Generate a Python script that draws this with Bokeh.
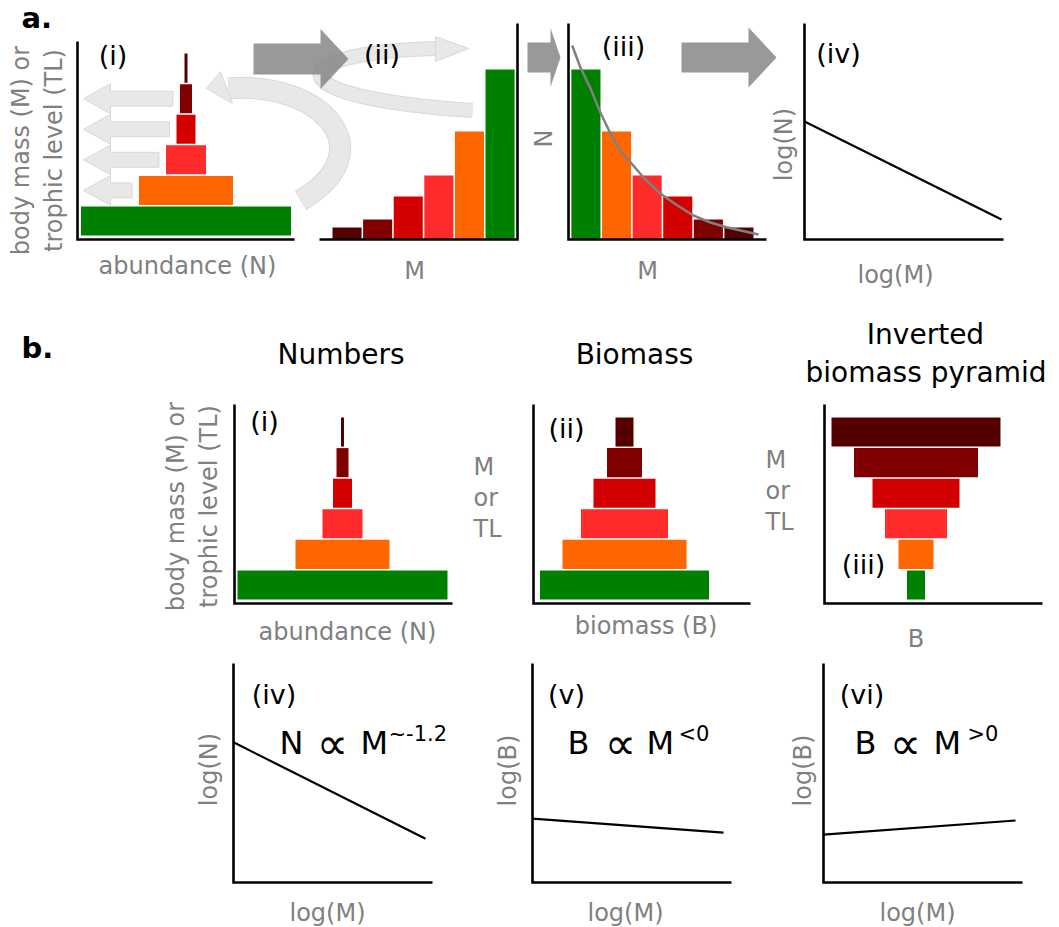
import numpy as np
from bokeh.plotting import figure
from bokeh.models import Range1d
from bokeh.core.properties import value
from bokeh.embed import file_html
from bokeh.resources import INLINE

W, H = 1059, 927
FONT = value("DejaVu Sans")
GREY = "#808080"

# size classes from the base of the pyramid (1, producers) to the top (6)
levels = [1, 2, 3, 4, 5, 6]
class_colors = ["#008000", "#ff6600", "#ff2a2a", "#d40000", "#800000", "#550000"]

# pyramid of numbers: relative abundance of each class
abundance = [210, 94, 40, 19, 12, 3]
# the same classes laid out along body mass (histogram heights)
abundance_hist = [170, 108, 64, 43, 20, 12]
# smooth abundance-size curve through the histogram
curve_M = [0.55, 0.82, 1.15, 1.47, 1.80, 2.13, 2.49, 2.88, 3.43, 3.99, 4.51, 5.07, 5.62, 6.64]
curve_N = [194, 172, 151, 127, 106, 89, 76, 62, 46, 34, 24, 17, 12, 5]
# biomass per class
biomass = [169, 124, 87, 62, 35, 18]
biomass_inverted = [18, 35, 62, 87, 124, 169]

# log-log size spectra, end points
logM_a = [0.0, 0.99]
logN_a = [0.546, 0.093]
logM_N = [0.0, 0.965]
logN_b = [0.64, 0.20]
logM_Bneg = [0.0, 0.96]
logB_neg = [0.292, 0.228]
logM_Bpos = [0.0, 0.965]
logB_pos = [0.219, 0.283]

# scaling exponents written next to the spectra
exponents = ["~-1.2", "<0", ">0"]

# panel frames: pixel box (left, right, top, bottom) and data limits (x0, x1, y0, y1)
panels = {
    "a1": (77, 294, 41, 239, 0, 217, 0.395, 6.87),
    "a2": (319, 517, 23, 239, 0.10, 6.57, 0, 216),
    "a3": (568, 766, 23, 239, 0.43, 6.90, 0, 216),
    "a4": (804, 1003, 23, 239, 0, 1, 0, 1),
    "b1": (234, 452, 404, 603, 0, 218, 0.395, 6.90),
    "b2": (533, 750, 404, 603, 0, 217, 0.395, 6.90),
    "b3": (824, 1042, 404, 603, 0, 218, 0.395, 6.90),
    "b4": (233, 432, 663, 882, 0, 1, 0, 1),
    "b5": (532, 731, 663, 882, 0, 1, 0, 1),
    "b6": (823, 1022, 663, 882, 0, 1, 0, 1),
}

p = figure(width=W, height=H, x_range=Range1d(0, W), y_range=Range1d(H, 0),
           title=None, toolbar_location=None, output_backend="svg",
           x_axis_location=None, y_axis_location=None, min_border=0)
p.outline_line_color = None
p.grid.visible = False
p.background_fill_color = "white"
p.border_fill_color = "white"

xr, yr = {}, {}
for name, (l, r, t, b, x0, x1, y0, y1) in panels.items():
    sx = (x1 - x0) / (r - l)
    xs = x0 - l * sx
    xr[name] = Range1d(xs, xs + W * sx)
    sy = (y1 - y0) / (b - t)
    ys = y0 - (H - b) * sy
    yr[name] = Range1d(ys, ys + H * sy)
p.extra_x_ranges = xr
p.extra_y_ranges = yr


def kw(name):
    return dict(x_range_name=name, y_range_name=name)


def label(x, y, s, size, color="black", angle=0.0, align="center", style="normal"):
    p.text(x=[x], y=[y], text=[s], text_font=FONT, text_font_size=f"{size}px",
           text_color=color, angle=angle, text_align=align,
           text_baseline="middle", text_font_style=style)


# ---- light curved arrows (panel a) ----
LIGHT = "#e8e8e8"
EDGE = "#d9d9d9"
# big arc from the base of the histogram back to the pyramid
arc = dict(x0=[300], y0=[200], x1=[228], y1=[88], cx0=[385], cy0=[150], cx1=[320], cy1=[80])
p.bezier(line_color=EDGE, line_width=22, **arc)
p.bezier(line_color=LIGHT, line_width=20, **arc)
p.patches(xs=[[206, 220, 232]], ys=[[88, 71, 103]], fill_color=LIGHT, line_color=EDGE, line_width=1)
# loop turning the pyramid on its side
loop = dict(x0=[472], y0=[110], x1=[436], y1=[48], cx0=[270], cy0=[97], cx1=[280], cy1=[52])
p.bezier(line_color=EDGE, line_width=15, **loop)
p.bezier(line_color=LIGHT, line_width=13, **loop)
p.patches(xs=[[435, 435, 468]], ys=[[36, 61, 48]], fill_color=LIGHT, line_color=EDGE, line_width=1)

# straight arrows from each pyramid step to the body-mass axis
a1_center = 108.5
arrow_xs, arrow_ys = [], []
for lv, w in zip(levels[1:5], abundance[1:5]):
    end = a1_center - w / 2 - 7
    arrow_xs.append([6, 33, 33, end, end, 33, 33])
    arrow_ys.append([lv, lv + 0.49, lv + 0.245, lv + 0.245, lv - 0.245, lv - 0.245, lv - 0.49])
p.patches(xs=arrow_xs, ys=arrow_ys, fill_color=LIGHT, line_color=EDGE, line_width=1, **kw("a1"))


# ---- dark block arrows between panels ----
def block_arrow(x_start, x_base, x_tip, y_mid, body_half, head_half):
    return ([x_start, x_base, x_base, x_tip, x_base, x_base, x_start],
            [y_mid - body_half, y_mid - body_half, y_mid - head_half, y_mid,
             y_mid + head_half, y_mid + body_half, y_mid + body_half])


dark = [block_arrow(253, 320, 348, 58.5, 15.5, 30),
        block_arrow(527, 550, 560, 57, 15, 29.5),
        block_arrow(681, 748, 776, 57, 15, 30)]
p.patches(xs=[d[0] for d in dark], ys=[d[1] for d in dark],
          fill_color="#808080", fill_alpha=0.8, line_color=None)


# ---- bars ----
def pyramid(name, widths, center):
    p.hbar(y=levels, left=[center - w / 2 for w in widths], right=[center + w / 2 for w in widths],
           height=0.95, fill_color=class_colors, line_color=None, **kw(name))


pyramid("a1", abundance, a1_center)
pyramid("b1", abundance, 108)
pyramid("b2", biomass, 91)
pyramid("b3", biomass_inverted, 91.5)

p.vbar(x=[7 - lv for lv in levels], top=abundance_hist, bottom=0, width=0.95,
       fill_color=class_colors, line_color=None, **kw("a2"))
p.vbar(x=levels, top=abundance_hist, bottom=0, width=0.95,
       fill_color=class_colors, line_color=None, **kw("a3"))

# fitted curve
p.line(curve_M, curve_N, line_color=GREY, line_width=2.5, **kw("a3"))

# size spectra
for name, xs, ys in [("a4", logM_a, logN_a), ("b4", logM_N, logN_b),
                     ("b5", logM_Bneg, logB_neg), ("b6", logM_Bpos, logB_pos)]:
    p.line(xs, ys, line_color="black", line_width=2.2, **kw(name))

# ---- axis lines ----
for name in panels:
    l, r, t, b, x0, x1, y0, y1 = panels[name]
    if name == "a2":
        xs, ys = [x0, x1, x1], [y0, y0, y1]
    else:
        xs, ys = [x0, x0, x1], [y1, y0, y0]
    p.line(xs, ys, line_color="black", line_width=2.6, line_join="miter", **kw(name))

# ---- texts ----
label(21, 17, "a.", 29, align="left", style="bold")
label(21, 347, "b.", 29, align="left", style="bold")

tag_text = ["(i)", "(ii)", "(iii)", "(iv)", "(i)", "(ii)", "(iii)", "(iv)", "(v)", "(vi)"]
tag_pos = [(112.5, 55), (381.5, 54), (623, 46), (838, 52.5), (264, 421),
           (566, 427.5), (863, 563.5), (273.5, 694), (566, 694), (861.5, 694)]
for s, (x, y) in zip(tag_text, tag_pos):
    label(x, y, s, 27)

for s, x, y in [("Numbers", 340.5, 353.5), ("Biomass", 634, 353.5),
                ("Inverted", 925, 334), ("biomass pyramid", 925.5, 371.5)]:
    label(x, y, s, 28)

for s, x, y in [("abundance (N)", 187, 265), ("M", 414, 270), ("M", 647, 270),
                ("log(M)", 895, 274), ("abundance (N)", 347, 631), ("biomass (B)", 645.5, 625),
                ("B", 915.5, 638), ("log(M)", 327, 912), ("log(M)", 625, 912),
                ("log(M)", 917, 912)]:
    label(x, y, s, 24, color=GREY)

for s, x, y in [("body mass (M) or", 20, 150), ("trophic level (TL)", 53, 150),
                ("N", 543, 138), ("log(N)", 783, 144),
                ("body mass (M) or", 175, 506), ("trophic level (TL)", 208, 506),
                ("log(N)", 208, 769), ("log(B)", 507, 770), ("log(B)", 802, 770)]:
    label(x, y, s, 24, color=GREY, angle=np.pi / 2)

for x, top in [(473, 466.8), (765, 459.8)]:
    for i, s in enumerate(["M", "or", "TL"]):
        label(x, top + 31 * i, s, 24, color=GREY, align="left")

# scaling relations: quantity, proportionality sign, body mass, exponent
for (xq, xp, xm, xe), q, e in zip([(279, 332, 360, 388), (567, 620, 646, 678), (854, 905, 933, 967)],
                                  ["N", "B", "B"], exponents):
    label(xq, 742, q, 32, align="left")
    label(xp, 743, "\u221d", 44)
    label(xm, 742, "M", 32, align="left")
    label(xe, 733, e, 21, align="left")

open("out.html", "w").write(file_html(p, INLINE))
